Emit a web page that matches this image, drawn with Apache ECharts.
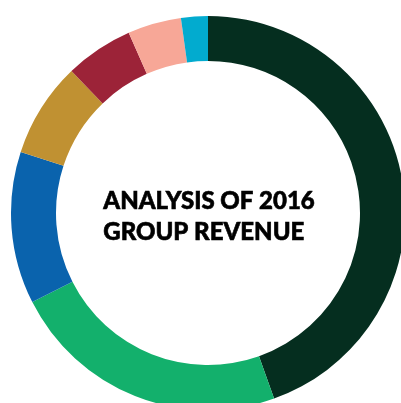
<!DOCTYPE html>
<html>
<head>
<meta charset="utf-8">
<script src="https://cdn.jsdelivr.net/npm/echarts@6/dist/echarts.min.js"></script>
<style>
  html, body { margin: 0; padding: 0; background: #fff; }
  #chart { width: 401px; height: 403px; }
</style>
</head>
<body>
<div id="chart"></div>
<script>
// share of 2016 group revenue (%), clockwise from 12 o'clock
const segments = ['Segment 1', 'Segment 2', 'Segment 3', 'Segment 4', 'Segment 5', 'Segment 6', 'Segment 7']
const shares = [44.6, 23.0, 12.5, 7.8, 5.6, 4.4, 2.2]
const colors = ['#052e1f', '#13b06c', '#0a63ad', '#c09132', '#9c2338', '#f7a797', '#02abcf']

const chart = echarts.init(document.getElementById('chart'))

chart.setOption({
  animation: false,
  graphic: [{
    type: 'text',
    left: 103,
    top: 186,
    style: {
      text: 'ANALYSIS OF 2016\nGROUP REVENUE',
      font: '900 24px Lato',
      fill: '#000',
      stroke: '#000',
      lineWidth: 0.6,
      lineHeight: 31
    }
  }],
  series: [{
    type: 'pie',
    center: [208, 213],
    radius: [152, 197],
    startAngle: 90,
    label: { show: false },
    labelLine: { show: false },
    emphasis: { disabled: true },
    data: segments.map((name, i) => ({
      name: name,
      value: shares[i],
      itemStyle: { color: colors[i] }
    }))
  }]
})
</script>
</body>
</html>
